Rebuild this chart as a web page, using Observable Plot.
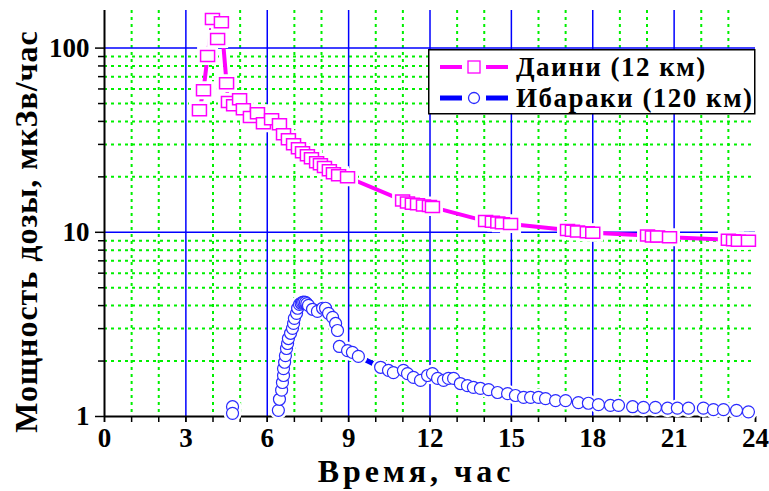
<!DOCTYPE html>
<html>
<head>
<meta charset="utf-8">
<script src="https://cdn.jsdelivr.net/npm/d3@7"></script>
<script src="https://cdn.jsdelivr.net/npm/@observablehq/plot@0.6"></script>
<style>
  body { margin: 0; background: #fff; }
  #chart { position: relative; width: 769px; height: 491px; font-family: "Liberation Serif", "Times New Roman", serif; font-weight: bold; }
  #chart svg text { font-weight: bold; }
  #chart g[aria-label="x-axis label"] text { letter-spacing: 4px; font-size: 32px; }
  #chart g[aria-label="y-axis label"] text { letter-spacing: 1px; font-size: 32px; }
  #legend { position: absolute; left: 428px; top: 49px; }
  #legend text { font-family: "Liberation Serif", "Times New Roman", serif; font-weight: bold; font-size: 27px; letter-spacing: 1.5px; }
</style>
</head>
<body>
<div id="chart"></div>
<script>
// Dose rate after the accident: Daini site (12 km) and Ibaraki (120 km)
const seriesNames = ["Даини (12 км)", "Ибараки (120 км)"];

const dainiTime = [3.50, 3.65, 3.80, 3.98, 4.17, 4.31, 4.50, 4.57, 4.76, 4.98, 5.12, 5.38, 5.64, 5.86, 6.16, 6.45, 6.60, 6.78, 6.97, 7.15, 7.30, 7.48, 7.63, 7.82, 7.96, 8.11, 8.29, 8.44, 8.63, 8.96,
  10.99, 11.17, 11.35, 11.54, 11.76, 11.98, 12.09,
  14.05, 14.30, 14.50, 14.67, 14.97,
  17.07, 17.25, 17.44, 17.80, 18.00,
  20.02, 20.20, 20.39, 20.83,
  23.00, 23.19, 23.37, 23.74];
const dainiDose = [46.0, 59.0, 90.5, 144, 112, 138, 64.5, 50.9, 49.0, 52.8, 46.6, 42.2, 44.3, 39.1, 41.1, 38.6, 34.1, 32.0, 30.1, 28.6, 27.2, 26.2, 25.2, 24.0, 23.4, 22.6, 21.7, 20.9, 20.4, 19.9,
  14.9, 14.5, 14.3, 14.2, 14.0, 13.9, 13.7,
  11.5, 11.4, 11.3, 11.2, 11.1,
  10.3, 10.2, 10.1, 10.0, 9.95,
  9.6, 9.5, 9.5, 9.4,
  9.1, 9.05, 9.0, 9.0];

const ibarakiTime = [4.72, 4.72,
  6.41, 6.45, 6.53, 6.56, 6.60, 6.60, 6.64, 6.67, 6.71, 6.75, 6.78, 6.86, 6.93, 6.97, 7.00, 7.08, 7.12, 7.19, 7.25, 7.30, 7.35, 7.41, 7.46, 7.52, 7.67, 7.85, 8.04, 8.15, 8.26, 8.41, 8.52, 8.59,
  8.66, 8.96, 9.14, 9.36, 10.18, 10.47, 10.65, 11.02, 11.17, 11.39, 11.65, 11.91, 12.09, 12.28, 12.50, 12.68, 12.87, 13.12, 13.38, 13.60, 13.86,
  14.16, 14.49, 14.86, 15.15, 15.45, 15.71, 16.00, 16.26, 16.63, 17.00, 17.47, 17.84, 18.21, 18.65, 18.95, 19.47, 19.87, 20.31, 20.76, 21.12, 21.53, 22.08, 22.45, 22.82, 23.30, 23.74];
const ibarakiDose = [1.13, 1.04,
  1.08, 1.24, 1.39, 1.53, 1.67, 1.82, 1.97, 2.14, 2.34, 2.49, 2.65, 2.83, 3.01, 3.20, 3.41, 3.63, 3.87, 4.06, 4.12, 4.16, 4.18, 4.16, 4.10, 4.01, 3.82, 3.72, 3.87, 3.87, 3.63, 3.45, 3.20, 2.93,
  2.40, 2.28, 2.23, 2.12, 1.85, 1.78, 1.73, 1.78, 1.71, 1.63, 1.57, 1.67, 1.71, 1.61, 1.57, 1.61, 1.61, 1.51, 1.47, 1.44, 1.42,
  1.40, 1.35, 1.33, 1.30, 1.27, 1.27, 1.27, 1.25, 1.22, 1.22, 1.19, 1.18, 1.16, 1.15, 1.15, 1.13, 1.12, 1.12, 1.11, 1.11, 1.11, 1.11, 1.09, 1.09, 1.08, 1.06];
// the two isolated readings near 4.7 h are not joined to the main curve
const ibarakiRun = ibarakiTime.map((t, i) => (i < 2 ? "early" : "main"));

const xTickLabels = [0, 3, 6, 9, 12, 15, 18, 21, 24];
const yTickLabels = [1, 10, 100];

const daini = dainiTime.map((t, i) => ({time: t, dose: dainiDose[i]}));
const ibaraki = ibarakiTime.map((t, i) => ({time: t, dose: ibarakiDose[i], run: ibarakiRun[i]}));

const hours = d3.range(0, 25);
const minorHours = hours.filter(h => h % 3 !== 0);
const majorHours = [3, 6, 9, 12, 15, 18, 21];
const minorDoses = [2, 3, 4, 5, 6, 7, 8, 9, 20, 30, 40, 50, 60, 70, 80, 90];

const MAGENTA = "#ff00ff";
const BLUE = "#0000ff";
const GREEN = "#00f000";

// open rectangle marker used for the Daini readings
const rectSymbol = {draw(ctx) { ctx.moveTo(-7, -5.5); ctx.lineTo(7, -5.5); ctx.lineTo(7, 5.5); ctx.lineTo(-7, 5.5); ctx.closePath(); }};

const chart = Plot.plot({
  width: 769,
  height: 491,
  marginLeft: 104,
  marginRight: 14,
  marginTop: 10,
  marginBottom: 75,
  style: {fontFamily: "'Liberation Serif', 'Times New Roman', serif", fontSize: "27px", fontWeight: "bold", color: "#000", background: "#fff", overflow: "visible"},
  x: {domain: [0, 24]},
  y: {type: "log", domain: [1, 160]},
  marks: [
    // grid
    Plot.ruleX(minorHours, {stroke: GREEN, strokeWidth: 2, strokeDasharray: "3,4"}),
    Plot.ruleY(minorDoses, {stroke: GREEN, strokeWidth: 2, strokeDasharray: "3,4"}),
    Plot.ruleX(majorHours, {stroke: BLUE, strokeWidth: 1.5}),
    Plot.ruleY([10, 100], {stroke: BLUE, strokeWidth: 1.5}),
    // axes
    Plot.axisX({ticks: hours, tickSize: 6, text: null, label: null, strokeWidth: 1.5}),
    Plot.axisX({ticks: xTickLabels, tickSize: 6, tickPadding: 5, tickFormat: d => String(d), strokeWidth: 1.5,
      label: "Время, час", labelAnchor: "center", labelArrow: false, labelOffset: 65}),
    Plot.axisY({ticks: minorDoses, tickSize: 6, text: null, label: null, strokeWidth: 1.5}),
    Plot.axisY({ticks: yTickLabels, tickSize: 9, tickPadding: 6, tickFormat: d => String(d), strokeWidth: 1.5,
      label: "Мощность дозы, мкЗв/час", labelAnchor: "center", labelArrow: false, labelOffset: 90}),
    Plot.ruleX([0], {stroke: "#000", strokeWidth: 2}),
    Plot.ruleY([1], {stroke: "#000", strokeWidth: 2}),
    // Ibaraki
    Plot.line(ibaraki, {x: "time", y: "dose", z: "run", stroke: BLUE, strokeWidth: 5, clip: true}),
    Plot.dot(ibaraki, {x: "time", y: "dose", r: 6, fill: "#fff", stroke: "#fff", strokeWidth: 6}),
    Plot.dot(ibaraki, {x: "time", y: "dose", r: 6, fill: "#fff", stroke: "#2a2aff", strokeWidth: 1.2}),
    // Daini
    Plot.line(daini, {x: "time", y: "dose", stroke: MAGENTA, strokeWidth: 4, clip: true}),
    Plot.dot(daini, {x: "time", y: "dose", symbol: rectSymbol, fill: "#fff", stroke: "#fff", strokeWidth: 7}),
    Plot.dot(daini, {x: "time", y: "dose", symbol: rectSymbol, fill: "#fff", stroke: MAGENTA, strokeWidth: 1.5})
  ]
});

// nudge the axis titles: the vertical one sits below the frame's centre,
// the horizontal one slightly left of it
function nudge(selector, dx, dy) {
  const g = chart.querySelector(selector);
  if (g) g.setAttribute("transform", `${g.getAttribute("transform") || ""} translate(${dx},${dy})`);
}
nudge('g[aria-label="y-axis label"]', 0, 18);
nudge('g[aria-label="x-axis label"]', -14, 0);

const host = document.getElementById("chart");
host.appendChild(chart);

// legend box
const legend = d3.select(host).append("svg")
  .attr("id", "legend").attr("width", 328).attr("height", 66);
legend.append("rect").attr("x", 0.75).attr("y", 0.75).attr("width", 326).attr("height", 64)
  .attr("fill", "#fff").attr("stroke", "#000").attr("stroke-width", 1.5);
const rows = [
  {name: seriesNames[0], color: MAGENTA, width: 4, y: 18, marker: "rect"},
  {name: seriesNames[1], color: BLUE, width: 5, y: 49, marker: "circle"}
];
for (const r of rows) {
  legend.append("line").attr("x1", 12).attr("x2", 34).attr("y1", r.y).attr("y2", r.y).attr("stroke", r.color).attr("stroke-width", r.width);
  legend.append("line").attr("x1", 58).attr("x2", 80).attr("y1", r.y).attr("y2", r.y).attr("stroke", r.color).attr("stroke-width", r.width);
  if (r.marker === "rect") {
    legend.append("rect").attr("x", 40).attr("y", r.y - 6).attr("width", 12).attr("height", 12)
      .attr("fill", "#fff").attr("stroke", r.color).attr("stroke-width", 1.3);
  } else {
    legend.append("circle").attr("cx", 46).attr("cy", r.y).attr("r", 5.5)
      .attr("fill", "#fff").attr("stroke", "#2a2aff").attr("stroke-width", 1.3);
  }
  legend.append("text").attr("x", 88).attr("y", r.y + 9).attr("fill", "#000").text(r.name);
}
</script>
</body>
</html>
